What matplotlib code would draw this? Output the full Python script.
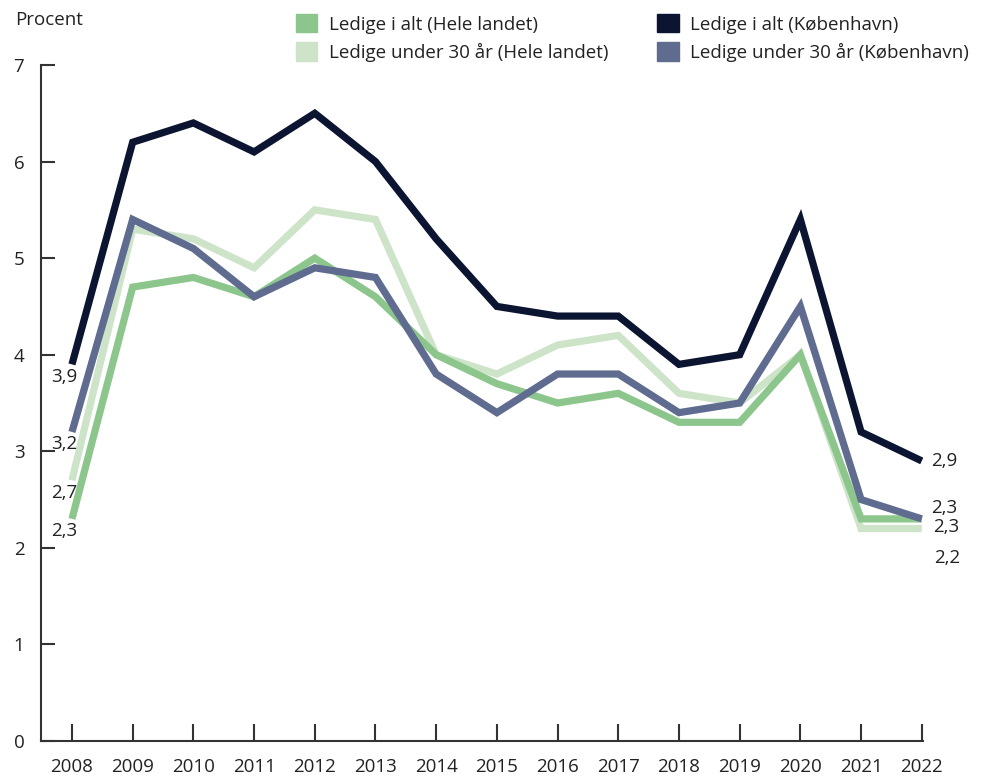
import matplotlib.pyplot as plt
from matplotlib.patches import Patch

plt.rcParams['font.family'] = ['Open Sans', 'DejaVu Sans']

years = list(range(2008, 2023))

# ledighed i procent
hele_alt = [2.3, 4.7, 4.8, 4.6, 5.0, 4.6, 4.0, 3.7, 3.5, 3.6, 3.3, 3.3, 4.0, 2.3, 2.3]
hele_u30 = [2.7, 5.3, 5.2, 4.9, 5.5, 5.4, 4.0, 3.8, 4.1, 4.2, 3.6, 3.5, 4.0, 2.2, 2.2]
kbh_alt = [3.9, 6.2, 6.4, 6.1, 6.5, 6.0, 5.2, 4.5, 4.4, 4.4, 3.9, 4.0, 5.4, 3.2, 2.9]
kbh_u30 = [3.2, 5.4, 5.1, 4.6, 4.9, 4.8, 3.8, 3.4, 3.8, 3.8, 3.4, 3.5, 4.5, 2.5, 2.3]

names = ['Ledige i alt (Hele landet)', 'Ledige under 30 år (Hele landet)',
         'Ledige i alt (København)', 'Ledige under 30 år (København)']
colors = ['#8cc68c', '#cde4c9', '#0b1430', '#5f6b8f']

txt = '#222222'
fs = 13.5
fig = plt.figure(figsize=(9.87, 7.77), dpi=100)
ax = fig.add_axes([41/987, 1 - 741/777, (923 - 41)/987, (741 - 65)/777])

series = [hele_u30, hele_alt, kbh_u30, kbh_alt]
cols = [colors[1], colors[0], colors[3], colors[2]]
for s, c in zip(series, cols):
    ax.plot(years, s, color=c, lw=5.2, solid_capstyle='butt', solid_joinstyle='miter')

# værdier ved start og slut
for s in [hele_alt, hele_u30, kbh_alt, kbh_u30]:
    ax.annotate(f'{s[0]:.1f}'.replace('.', ','), (years[0], s[0]), xytext=(4, -9),
                textcoords='offset points', ha='right', va='center', fontsize=fs, color=txt)
end_off = [(kbh_alt, 0, 7), (kbh_u30, 8, 7), (hele_alt, -6, 8), (hele_u30, -21, 9)]
for s, dy, dx in end_off:
    ax.annotate(f'{s[-1]:.1f}'.replace('.', ','), (years[-1], s[-1]), xytext=(dx, dy),
                textcoords='offset points', ha='left', va='center', fontsize=fs, color=txt)

ax.set_xlim(2007.49, 2022.02)
ax.set_ylim(0, 7)
ax.set_xticks(years)
ax.set_yticks(range(0, 8))
for sp in ['top', 'right']:
    ax.spines[sp].set_visible(False)
for sp in ['left', 'bottom']:
    ax.spines[sp].set_color('#333333')
    ax.spines[sp].set_linewidth(1.5)
ax.tick_params(axis='x', direction='in', length=12, width=1.5, color='#333333',
               pad=12, labelsize=fs, labelcolor=txt)
ax.tick_params(axis='y', direction='in', length=10, width=1.5, color='#333333',
               pad=12, labelsize=fs, labelcolor=txt)

fig.text(15/987, 1 - 20/777, 'Procent', fontsize=fs, color=txt, va='center')

handles = [Patch(color=c) for c in colors]
fig.legend(handles, names, loc='upper left', bbox_to_anchor=(279/987, 1 + 3/777), ncol=2,
           frameon=False, fontsize=fs, handlelength=1.15, handleheight=1.15,
           handletextpad=0.6, columnspacing=2.6, labelspacing=0.45, labelcolor=txt)

fig.savefig('out.png', dpi=100)
